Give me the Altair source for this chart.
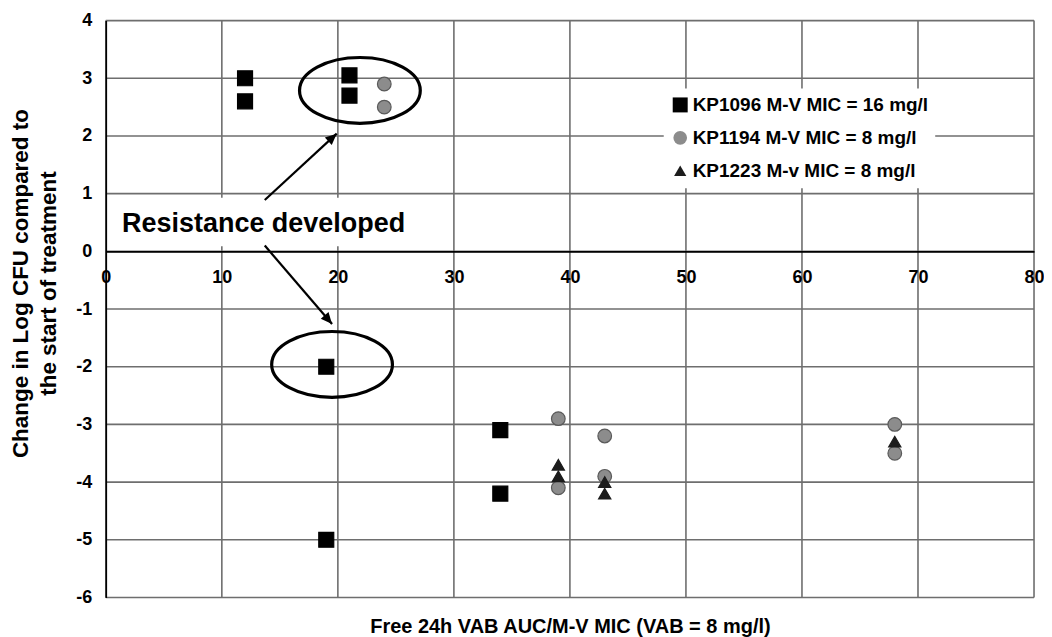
import altair as alt
import pandas as pd

# ---- data ----
series_names = ["KP1096 M-V MIC = 16 mg/l", "KP1194 M-V MIC = 8 mg/l", "KP1223 M-v MIC = 8 mg/l"]
sq_x = [12, 12, 21, 21, 19, 19, 34, 34]
sq_y = [3.0, 2.6, 3.05, 2.7, -2.0, -5.0, -3.1, -4.2]
ci_x = [24, 24, 39, 39, 43, 43, 68, 68]
ci_y = [2.9, 2.5, -2.9, -4.1, -3.2, -3.9, -3.0, -3.5]
tr_x = [39, 39, 43, 43, 68]
tr_y = [-3.7, -3.9, -4.0, -4.2, -3.3]

x_ticks = [0, 10, 20, 30, 40, 50, 60, 70, 80]
y_ticks = [-6, -5, -4, -3, -2, -1, 0, 1, 2, 3, 4]

# annotations (data coordinates)
ellipse_x = [21.9, 19.5]
ellipse_y = [2.79, -1.96]
arrow_x0 = [13.7, 13.7]
arrow_y0 = [0.89, 0.10]
arrow_x1 = [19.9, 19.5]
arrow_y1 = [2.04, -1.26]
arrow_angle = [47.6, 139.2]
note_text = "Resistance developed"
note_x = 13.6
note_y = 0.48
note_box = [0.7, 26.3, 0.93, 0.09]

FONT = "Liberation Sans"
W, H = 930, 578

rows = []
for xs, ys, name in [(sq_x, sq_y, series_names[0]), (ci_x, ci_y, series_names[1]), (tr_x, tr_y, series_names[2])]:
    for a, b in zip(xs, ys):
        rows.append({"x": a, "y": b, "series": name})
pts = pd.DataFrame(rows)

xscale = alt.Scale(domain=[0, 80], nice=False, zero=False)
yscale = alt.Scale(domain=[-6, 4], nice=False, zero=False)

axis_x = alt.Axis(values=x_ticks, labelExpr="'' + datum.value", orient="bottom", offset=-H * 0.6,
                  grid=False, ticks=False, tickSize=0, labelPadding=17,
                  domainColor="#000000", domainWidth=1.6,
                  labelFont=FONT, labelFontSize=18, labelFontWeight="bold", labelColor="#000000",
                  title="Free 24h VAB AUC/M-V MIC (VAB = 8 mg/l)", titleFont=FONT, titleFontSize=20,
                  titleFontWeight="bold", titleColor="#000000", titleY=382, titleBaseline="alphabetic",
                  zindex=1, labelFlush=False, labelOverlap=False)
axis_y = alt.Axis(values=y_ticks, labelExpr="'' + datum.value", orient="left",
                  grid=False, ticks=False, tickSize=0, labelPadding=14,
                  domainColor="#000000", domainWidth=1.6,
                  labelFont=FONT, labelFontSize=18, labelFontWeight="bold", labelColor="#000000",
                  title=["Change in Log CFU compared to", "the start of treatment"],
                  titleFont=FONT, titleFontSize=22.5, titleFontWeight="bold", titleColor="#000000",
                  titleAngle=-90, titleX=-78, titleY=263, titleBaseline="alphabetic",
                  titleAlign="center", titleLineHeight=27.5,
                  zindex=1, labelFlush=False, labelOverlap=False)


def X(field):
    return alt.X(field, type="quantitative", scale=xscale, axis=axis_x)


def Y(field):
    return alt.Y(field, type="quantitative", scale=yscale, axis=axis_y)


grid_color = "#6e6e6e"
vgrid = alt.Chart(pd.DataFrame({"gx": x_ticks})).mark_rule(color=grid_color, strokeWidth=1.6).encode(x=X("gx"))
hgrid = alt.Chart(pd.DataFrame({"gy": y_ticks})).mark_rule(color=grid_color, strokeWidth=1.6).encode(y=Y("gy"))

box = alt.Chart(pd.DataFrame({"bx": [note_box[0]], "bx2": [note_box[1]], "by": [note_box[2]], "by2": [note_box[3]]})).mark_rect(
    fill="white").encode(x=X("bx"), x2="bx2", y=Y("by"), y2="by2")

ell_path = ("M 1 0 C 1 0.301 0.552 0.545 0 0.545 C -0.552 0.545 -1 0.301 -1 0 "
            "C -1 -0.301 -0.552 -0.545 0 -0.545 C 0.552 -0.545 1 -0.301 1 0 Z")
ellipses = alt.Chart(pd.DataFrame({"ex": ellipse_x, "ey": ellipse_y})).mark_point(
    shape=ell_path, filled=False, stroke="#000000", strokeWidth=3.2, size=14641, opacity=1
).encode(x=X("ex"), y=Y("ey"))

arr_df = pd.DataFrame({"ax0": arrow_x0, "ay0": arrow_y0, "ax1": arrow_x1, "ay1": arrow_y1, "ang": arrow_angle})
arrows = alt.Chart(arr_df).mark_rule(color="#000000", strokeWidth=2.2).encode(
    x=X("ax0"), y=Y("ay0"), x2="ax1", y2="ay1")
heads = alt.Chart(arr_df).mark_point(shape="M 0 0 L -0.45 1 L 0.45 1 Z", filled=True, fill="#000000",
                                     size=520, opacity=1, strokeWidth=0).encode(
    x=X("ax1"), y=Y("ay1"), angle=alt.Angle("ang", type="quantitative", scale=None))

note = alt.Chart(pd.DataFrame({"tx": [note_x], "ty": [note_y], "t": [note_text]})).mark_text(
    font=FONT, fontSize=27, fontWeight="bold", color="#000000", align="center", baseline="middle"
).encode(x=X("tx"), y=Y("ty"), text="t")

leg = alt.Legend(title=None, orient="none", legendX=559, legendY=68, fillColor="white", padding=7,
                 labelFont=FONT, labelFontSize=19, labelFontWeight="bold", labelColor="#000000",
                 labelLimit=500, symbolSize=120, rowPadding=13, labelOffset=3,
                 symbolStrokeWidth=0, symbolOpacity=1)

points = alt.Chart(pts).mark_point(filled=True, opacity=1, strokeWidth=1.2).encode(
    x=X("x"), y=Y("y"),
    color=alt.Color("series:N", scale=alt.Scale(domain=series_names, range=["#000000", "#8c8c8c", "#1c1c1c"]), legend=leg),
    shape=alt.Shape("series:N", scale=alt.Scale(domain=series_names, range=["square", "circle", "triangle-up"]), legend=leg),
    stroke=alt.Stroke("series:N", scale=alt.Scale(domain=series_names, range=["#000000", "#5a5a5a", "#1c1c1c"]), legend=None),
    size=alt.Size("series:N", scale=alt.Scale(domain=series_names, range=[225, 150, 160]), legend=None),
)

chart = alt.layer(vgrid, hgrid, box, ellipses, arrows, heads, points, note).properties(
    width=W, height=H,
    autosize=alt.AutoSizeParams(type="none"),
    padding={"left": 98, "top": 12, "right": 10, "bottom": 42},
    background="white",
).configure_view(stroke=None)

chart.save("out.html", embed_options={"renderer": "svg", "actions": False})
